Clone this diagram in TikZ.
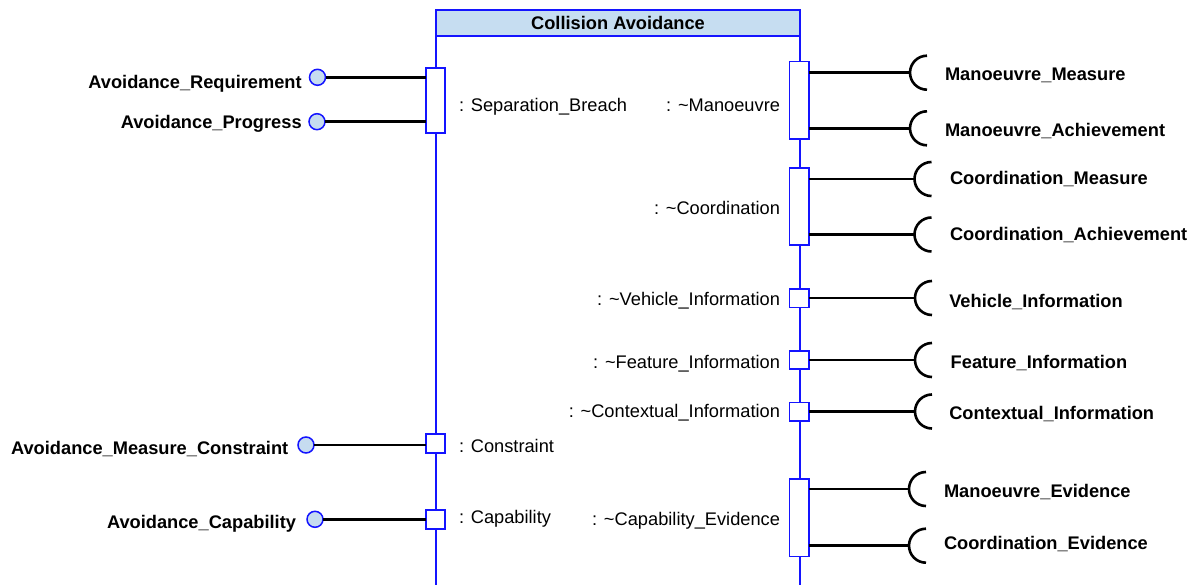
\documentclass[tikz,border=0pt]{standalone}
\usepackage{fontspec}
\setmainfont{Liberation Sans}
\definecolor{umlblue}{RGB}{20,20,255}
\definecolor{hdrfill}{RGB}{198,221,241}
\definecolor{ifill}{RGB}{198,220,240}
\newcommand{\lbl}{\fontsize{18.25}{22}\selectfont}
\begin{document}
\begin{tikzpicture}[x=1pt,y=-1pt,
  every node/.style={inner sep=0pt, outer sep=0pt},
  frameline/.style={draw=umlblue, line width=1.4pt},
  port/.style={draw=umlblue, fill=white, line width=1.6pt, minimum width=19.4pt},
  iface/.style={circle, draw=umlblue, fill=ifill, line width=1.5pt, minimum size=16pt},
  wire/.style={draw=black, line width=2.6pt},
  extlabel/.style={font=\lbl\bfseries},
  intlabel/.style={font=\lbl},
  socket/.style={draw=black, line width=2.6pt},
]
\useasboundingbox (0,0) rectangle (1196,585);

% block frame with its title bar
\node[draw=umlblue, fill=hdrfill, line width=1.4pt, minimum width=364pt,
      minimum height=26pt, font=\lbl\bfseries] (hdr) at (618,23) {Collision Avoidance};
\draw[frameline] (hdr.south west) -- ++(0,549);
\draw[frameline] (hdr.south east) -- ++(0,549);

% ports on the left side
\node[port, minimum height=65.5pt] (pSB)  at (435.5,100.5) {};
\node[port, minimum height=19pt]   (pCon) at (435.5,443.7) {};
\node[port, minimum height=19pt]   (pCap) at (435.5,519.2) {};

% ports on the right side
\node[port, minimum height=77.7pt] (pMan)   at (799,100.3) {};
\node[port, minimum height=77.4pt] (pCoord) at (799,206.5) {};
\node[port, minimum height=18.4pt] (pVeh)   at (799,298.3) {};
\node[port, minimum height=18.4pt] (pFeat)  at (799,360) {};
\node[port, minimum height=18.4pt] (pCtx)   at (799,411.7) {};
\node[port, minimum height=77.4pt] (pCapEv) at (799,517.7) {};

% provided interfaces (lollipops)
\node[iface] (cReq)  at (317.5,77.3) {};
\node[iface] (cProg) at (317,121.7) {};
\node[iface] (cMC)   at (306,445) {};
\node[iface] (cCap)  at (315,519.3) {};

\draw[wire] (cReq)  -- (cReq  -| pSB.west);
\draw[wire] (cProg) -- (cProg -| pSB.west);
\draw[wire] (cMC)   -- (cMC   -| pCon.west);
\draw[wire] (cCap)  -- (cCap  -| pCap.west);

% required interfaces (sockets)
\coordinate (sMM) at (910,72.7);
\coordinate (sMA) at (910,128.3);
\coordinate (sCM) at (914.5,179);
\coordinate (sCA) at (914.5,234.5);
\coordinate (sVI) at (915,298);
\coordinate (sFI) at (915,360);
\coordinate (sCI) at (915,411.5);
\coordinate (sME) at (909,489);
\coordinate (sCE) at (909,545.7);

\draw[wire] (pMan.east   |- sMM) -- (sMM);
\draw[wire] (pMan.east   |- sMA) -- (sMA);
\draw[wire] (pCoord.east |- sCM) -- (sCM);
\draw[wire] (pCoord.east |- sCA) -- (sCA);
\draw[wire] (pVeh.east   |- sVI) -- (sVI);
\draw[wire] (pFeat.east  |- sFI) -- (sFI);
\draw[wire] (pCtx.east   |- sCI) -- (sCI);
\draw[wire] (pCapEv.east |- sME) -- (sME);
\draw[wire] (pCapEv.east |- sCE) -- (sCE);

\foreach \s in {sMM,sMA,sCM,sCA,sVI,sFI,sCI,sME,sCE}
  \draw[socket] (\s) ++(17pt,17pt) arc[start angle=90, end angle=270, radius=17pt];

% interface names
\node[extlabel, anchor=base east] (tReq)  at (301.7,89)  {Avoidance\_Requirement};
\node[extlabel, anchor=base east] (tProg) at (301.7,129) {Avoidance\_Progress};
\node[extlabel, anchor=base east] (tMC)   at (288.3,454) {Avoidance\_Measure\_Constraint};
\node[extlabel, anchor=base east] (tCap)  at (296,528.3) {Avoidance\_Capability};

\node[extlabel, anchor=base west] (tMM) at (945,81)      {Manoeuvre\_Measure};
\node[extlabel, anchor=base west] (tMA) at (945,136.6)   {Manoeuvre\_Achievement};
\node[extlabel, anchor=base west] (tCM) at (950,185)     {Coordination\_Measure};
\node[extlabel, anchor=base west] (tCA) at (950,240.6)   {Coordination\_Achievement};
\node[extlabel, anchor=base west] (tVI) at (949.3,307.3) {Vehicle\_Information};
\node[extlabel, anchor=base west] (tFI) at (950.7,368.3) {Feature\_Information};
\node[extlabel, anchor=base west] (tCI) at (949.3,419.3) {Contextual\_Information};
\node[extlabel, anchor=base west] (tME) at (944,497.3)   {Manoeuvre\_Evidence};
\node[extlabel, anchor=base west] (tCE) at (944,549.6)   {Coordination\_Evidence};

% port names
\node[intlabel, anchor=base west] (nSB)  at (459,111.6) {: Separation\_Breach};
\node[intlabel, anchor=base west] (nCon) at (459,452.6) {: Constraint};
\node[intlabel, anchor=base west] (nCap) at (459,523.6) {: Capability};
\node[intlabel, anchor=base east] (nMan)   at (780,111.6) {: \textasciitilde Manoeuvre};
\node[intlabel, anchor=base east] (nCoord) at (780,214.6) {: \textasciitilde Coordination};
\node[intlabel, anchor=base east] (nVeh)   at (780,305.6) {: \textasciitilde Vehicle\_Information};
\node[intlabel, anchor=base east] (nFeat)  at (780,368.3) {: \textasciitilde Feature\_Information};
\node[intlabel, anchor=base east] (nCtx)   at (780,417.6) {: \textasciitilde Contextual\_Information};
\node[intlabel, anchor=base east] (nCapEv) at (780,525)   {: \textasciitilde Capability\_Evidence};
\end{tikzpicture}
\end{document}
